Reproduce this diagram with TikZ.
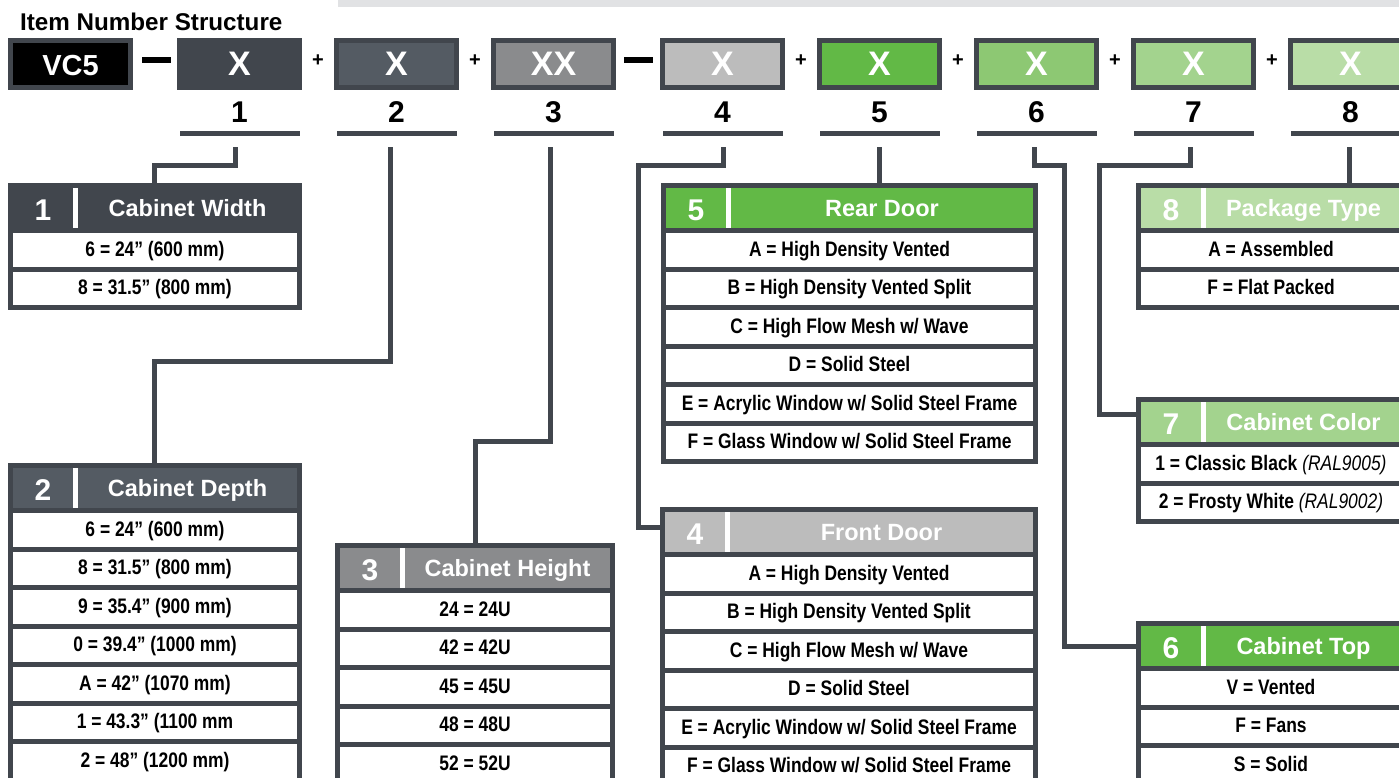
\documentclass[tikz,border=0pt]{standalone}
\usepackage{fontspec}
\setmainfont{Liberation Sans}
\newfontfamily\nar{Liberation Sans}[FakeStretch=0.83]
\definecolor{dk}{HTML}{41464D}
\definecolor{c2}{HTML}{545B63}
\definecolor{c3}{HTML}{8A8B8D}
\definecolor{c4}{HTML}{BCBCBC}
\definecolor{g5}{HTML}{62B946}
\definecolor{g6}{HTML}{8DC873}
\definecolor{g7}{HTML}{A3D38E}
\definecolor{g8}{HTML}{B9DDA7}
\definecolor{topgray}{HTML}{E1E2E4}
\tikzset{
 conn/.style={draw=dk, line width=5pt},
 frame/.style={fill=dk, inner sep=0pt, outer sep=0pt, anchor=north west},
 cell/.style={inner sep=0pt, outer sep=0pt, anchor=north west},
 ttl/.style={font=\fontsize{24.2}{24.2}\selectfont\bfseries, anchor=base west, inner sep=0pt},
 xtxt/.style={text=white, font=\fontsize{34}{34}\selectfont\bfseries, anchor=base, inner sep=0pt},
 numlbl/.style={font=\fontsize{30}{30}\selectfont\bfseries, anchor=base, inner sep=0pt},
 hnum/.style={text=white, font=\fontsize{30}{30}\selectfont\bfseries, anchor=base, inner sep=0pt},
 htitle/.style={text=white, font=\fontsize{23.5}{23.5}\selectfont\bfseries, anchor=base, inner sep=0pt},
 rowtxt/.style={font=\nar\fontsize{21}{21}\selectfont\bfseries, anchor=base, inner sep=0pt},
 uline/.style={fill=dk, inner sep=0pt, outer sep=0pt, minimum width=120pt, minimum height=5pt},
 plussign/.style={font=\fontsize{20}{20}\selectfont\bfseries, inner sep=0pt},
 dashbar/.style={fill=black, inner sep=0pt, outer sep=0pt, minimum width=29pt, minimum height=6pt},
}
\newcommand\spectable[9]{%
 \node[frame, minimum width=#4pt, minimum height={50+38.5*#8}] (#1) at (#2,#3) {};
 \node[cell, fill=#5, minimum width={#4-10}, minimum height=40pt] (#1h) at ({#2+5},{#3+5}) {};
 \node[cell, fill=white, minimum width=5pt, minimum height=40pt] (#1bar) at ({#2+65},{#3+5}) {};
 \node[hnum] (#1n) at ({#2+35},{#3+37}) {#6};
 \node[htitle] (#1t) at ({#2+(#4+65)/2},{#3+33}) {#7};
 \foreach \r [count=\i from 0] in {#9} {
   \node[cell, fill=white, minimum width={#4-10}, minimum height=33.5pt] (#1r\i) at ({#2+5},{#3+50+38.5*\i}) {};
   \node[rowtxt] (#1x\i) at ({#2+#4/2},{#3+73+38.5*\i}) {\r};
 }
}
\newcommand\topbox[4]{%
 \node[frame, minimum width=125pt, minimum height=52pt] (#1) at (#2,38) {};
 \node[cell, fill=#3, minimum width=115pt, minimum height=41.5pt] (#1i) at ({#2+5},43) {};
 \node[xtxt] (#1t) at ({#2+62.5},75) {#4};
}
\begin{document}
\begin{tikzpicture}[x=1pt,y=-1pt]
\useasboundingbox (0,0) rectangle (1399,777);
\clip (0,0) rectangle (1399,777);
\node[cell, fill=topgray, minimum width=1061pt, minimum height=6.5pt] (topbar) at (338,0) {};
\node[ttl] (title) at (20,30) {Item Number Structure};
% top boxes
\topbox{b0}{8}{black}{\fontsize{29}{29}\selectfont VC5}
\topbox{b1}{177}{dk}{X}
\topbox{b2}{334}{c2}{X}
\topbox{b3}{491}{c3}{XX}
\topbox{b4}{660}{c4}{X}
\topbox{b5}{817}{g5}{X}
\topbox{b6}{974}{g6}{X}
\topbox{b7}{1131}{g7}{X}
\topbox{b8}{1288}{g8}{X}
\node[dashbar] (d1) at (156.5,60) {};
\node[dashbar] (d2) at (638.5,60) {};
\node[plussign] (p1) at (318,61) {+};
\node[plussign] (p2) at (475,61) {+};
\node[plussign] (p3) at (801,61) {+};
\node[plussign] (p4) at (958,61) {+};
\node[plussign] (p5) at (1115,61) {+};
\node[plussign] (p6) at (1272,61) {+};
% numbers and underlines
\foreach \n/\cx in {1/239.5,2/396.5,3/553.5,4/722.5,5/879.5,6/1036.5,7/1193.5,8/1350.5}{
  \node[numlbl] (n\n) at (\cx,122) {\n};
  \node[uline] (u\n) at (\cx,133.5) {};
}
% connector anchors
\coordinate (s1) at (235,147);   \coordinate (j1) at (154.5,165.5);
\coordinate (s2) at (390,147);   \coordinate (j2) at (154.5,361.5);
\coordinate (s3) at (550,147);   \coordinate (j3) at (475.5,441.5);
\coordinate (s4) at (723,147);   \coordinate (j4) at (638,165.5);  \coordinate (k4) at (662,527.5);
\coordinate (s5) at (879,147);
\coordinate (s6) at (1034.5,147); \coordinate (j6) at (1064.5,165.5); \coordinate (k6) at (1138,646.5);
\coordinate (s7) at (1190.5,147); \coordinate (j7) at (1099,165.5);  \coordinate (k7) at (1138,414.5);
\coordinate (s8) at (1349.5,147);
% tables
\spectable{tA}{8}{183}{294}{dk}{1}{Cabinet Width}{2}{6 = 24” (600 mm), 8 = 31.5” (800 mm)}
\spectable{tB}{8}{463}{294}{c2}{2}{Cabinet Depth}{7}{6 = 24” (600 mm), 8 = 31.5” (800 mm), 9 = 35.4” (900 mm), 0 = 39.4” (1000 mm), A = 42” (1070 mm), 1 = 43.3” (1100 mm, 2 = 48” (1200 mm)}
\spectable{tC}{335}{543}{280}{c3}{3}{Cabinet Height}{5}{24 = 24U, 42 = 42U, 45 = 45U, 48 = 48U, 52 = 52U}
\spectable{tD}{660}{507}{378}{c4}{4}{Front Door}{6}{A = High Density Vented, B = High Density Vented Split, C = High Flow Mesh w/ Wave, D = Solid Steel, E = Acrylic Window w/ Solid Steel Frame, F = Glass Window w/ Solid Steel Frame}
\spectable{tE}{661}{183}{377}{g5}{5}{Rear Door}{6}{A = High Density Vented, B = High Density Vented Split, C = High Flow Mesh w/ Wave, D = Solid Steel, E = Acrylic Window w/ Solid Steel Frame, F = Glass Window w/ Solid Steel Frame}
\spectable{tF}{1136}{621}{270}{g5}{6}{Cabinet Top}{3}{V = Vented, F = Fans, S = Solid}
\spectable{tG}{1136}{397}{270}{g7}{7}{Cabinet Color}{2}{1 = Classic Black {\mdseries\itshape (RAL9005)}, 2 = Frosty White {\mdseries\itshape (RAL9002)}}
\spectable{tH}{1136}{183}{270}{g8}{8}{Package Type}{2}{A = Assembled, F = Flat Packed}
% connectors
\draw[conn] (s1) |- (j1) -- (j1 |- tA.north);
\draw[conn] (s2) |- (j2) -- (j2 |- tB.north);
\draw[conn] (s3) |- (j3) -- (j3 |- tC.north);
\draw[conn] (s4) |- (j4) |- (k4);
\draw[conn] (s5) -- (s5 |- tE.north);
\draw[conn] (s6) |- (j6) |- (k6);
\draw[conn] (s7) |- (j7) |- (k7);
\draw[conn] (s8) -- (s8 |- tH.north);
\end{tikzpicture}
\end{document}
